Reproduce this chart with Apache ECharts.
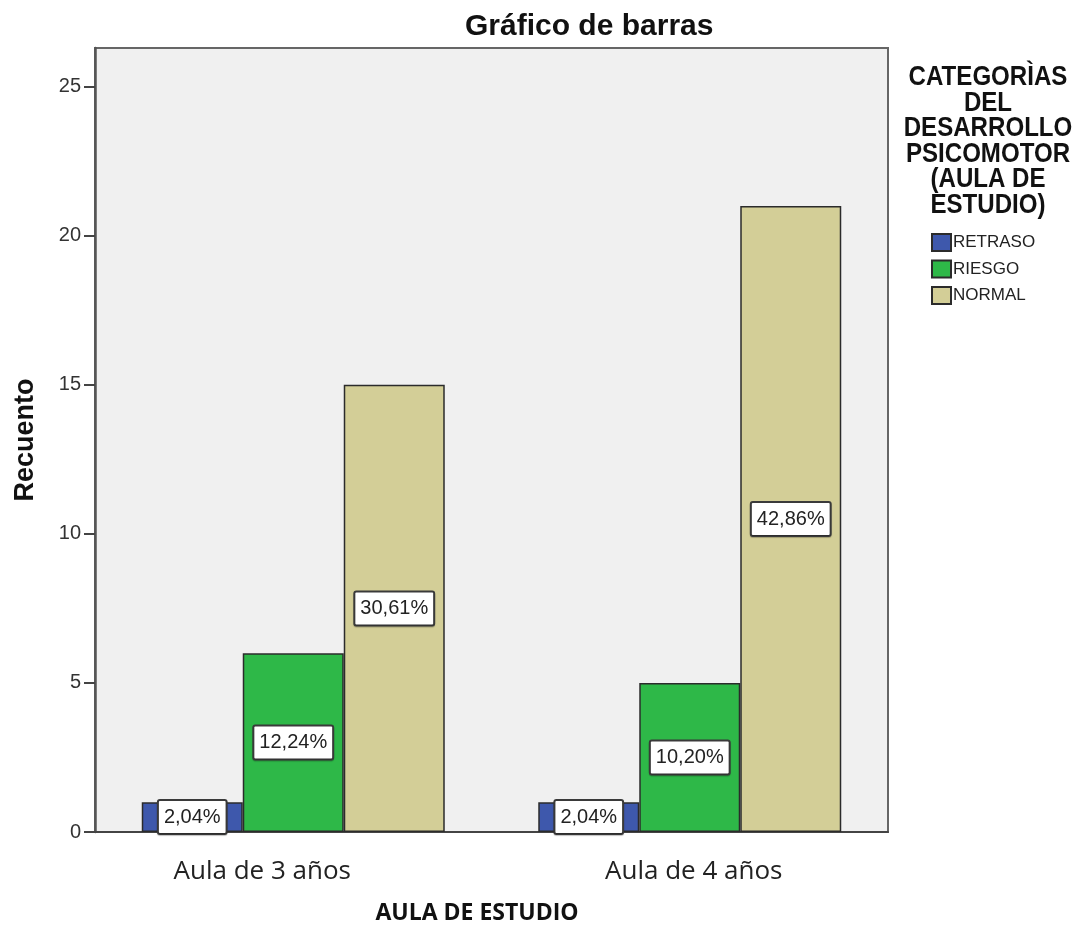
<!DOCTYPE html>
<html>
<head>
<meta charset="utf-8">
<script src="https://cdn.jsdelivr.net/npm/echarts@6/dist/echarts.min.js"></script>
<style>
html,body{margin:0;padding:0;background:#fff;}
#chart{width:1083px;height:926px;}
</style>
</head>
<body>
<div id="chart"></div>
<script>
// ---- data ----
var categories = ['Aula de 3 años', 'Aula de 4 años'];
var seriesNames = ['RETRASO', 'RIESGO', 'NORMAL'];
var retraso = [1, 1];
var riesgo = [6, 5];
var normal = [15, 21];
var retrasoPct = ['2,04%', '2,04%'];
var riesgoPct = ['12,24%', '10,20%'];
var normalPct = ['30,61%', '42,86%'];
var yTicks = [0, 5, 10, 15, 20, 25];

var colors = ['#3E58AC', '#2EB848', '#D3CE97'];
var values = [retraso, riesgo, normal];
var pcts = [retrasoPct, riesgoPct, normalPct];

var chart = echarts.init(document.getElementById('chart'), null, {renderer: 'canvas'});

var labelStyle = {
  show: true,
  position: 'inside',
  color: '#222',
  fontFamily: 'Liberation Sans, Arial, sans-serif',
  fontSize: 20,
  backgroundColor: '#ffffff',
  borderColor: '#3a3a3a',
  borderWidth: 2,
  borderRadius: 1,
  padding: [7, 5, 5, 5],
  shadowColor: 'rgba(0,0,0,0.25)',
  shadowOffsetY: 1,
  shadowBlur: 1
};

var series = seriesNames.map(function (name, i) {
  return {
    name: name,
    type: 'bar',
    barWidth: 101,
    barGap: '0%',
    data: values[i],
    itemStyle: {color: colors[i], borderColor: '#2b2b2b', borderWidth: 1.5},
    label: Object.assign({}, labelStyle, {
      formatter: function (p) { return pcts[i][p.dataIndex]; }
    }),
    emphasis: {disabled: true}
  };
});

var option = {
  animation: false,
  backgroundColor: '#ffffff',
  title: [
    {
      text: 'Gráfico de barras',
      left: 460,
      top: 7,
      textStyle: {fontFamily: 'Liberation Sans, Arial, sans-serif', fontWeight: 'bold', fontSize: 30, color: '#111'}
    }
  ],
  graphic: [
    {
      type: 'text',
      x: 988,
      y: 65,
      scaleX: 0.86,
      silent: true,
      style: {
        text: 'CATEGORÌAS\nDEL\nDESARROLLO\nPSICOMOTOR\n(AULA DE\nESTUDIO)',
        align: 'center',
        verticalAlign: 'top',
        fontFamily: 'Liberation Sans, Arial, sans-serif',
        fontWeight: 'bold',
        fontSize: 28,
        lineHeight: 25.5,
        fill: '#111'
      }
    }
  ],
  legend: {
    data: seriesNames,
    orient: 'vertical',
    left: 926,
    top: 228,
    itemWidth: 19,
    itemHeight: 17,
    itemGap: 7.5,
    icon: 'rect',
    selectedMode: false,
    textStyle: {fontFamily: 'Liberation Sans, Arial, sans-serif', fontSize: 17, lineHeight: 17, color: '#222', padding: [0, 0, 0, -3]}
  },
  grid: {
    left: 95,
    right: 195,
    top: 48,
    bottom: 94,
    outerBoundsMode: 'none',
    containLabel: false,
    show: true,
    backgroundColor: '#F0F0F0',
    borderColor: '#666',
    borderWidth: 2
  },
  xAxis: {
    type: 'category',
    data: categories,
    name: 'AULA DE ESTUDIO',
    nameLocation: 'middle',
    nameGap: 70,
    nameTextStyle: {fontFamily: 'Open Sans, sans-serif', fontWeight: 'bold', fontSize: 23, color: '#111', padding: [0, 29, 0, 0]},
    axisLine: {lineStyle: {color: '#444', width: 2}},
    axisTick: {alignWithLabel: true, length: 8, lineStyle: {color: '#444', width: 2}},
    axisLabel: {
      margin: 27,
      fontFamily: 'Open Sans, sans-serif',
      fontSize: 26,
      color: '#222',
      formatter: function (v, idx) { return idx === 0 ? '{a|' + v + '}' : '{b|' + v + '}'; },
      rich: {
        a: {fontFamily: 'Open Sans, sans-serif', fontSize: 26, color: '#222', padding: [0, 62, 0, 0]},
        b: {fontFamily: 'Open Sans, sans-serif', fontSize: 26, color: '#222', padding: [0, 0, 0, 8]}
      }
    },
    splitLine: {show: false}
  },
  yAxis: {
    type: 'value',
    min: 0,
    max: 26.3,
    interval: 5,
    name: 'Recuento',
    nameLocation: 'middle',
    nameGap: 56,
    nameRotate: 90,
    nameTextStyle: {fontFamily: 'Liberation Sans, Arial, sans-serif', fontWeight: 'bold', fontSize: 27, color: '#111'},
    axisLine: {show: true, lineStyle: {color: '#555', width: 2.5}},
    axisTick: {show: true, length: 11, customValues: yTicks, lineStyle: {color: '#444', width: 2}},
    axisLabel: {
      customValues: yTicks,
      margin: 14,
      fontFamily: 'Liberation Sans, Arial, sans-serif',
      fontSize: 20,
      color: '#333'
    },
    splitLine: {show: false}
  },
  series: series
};

chart.setOption(option);
</script>
</body>
</html>
